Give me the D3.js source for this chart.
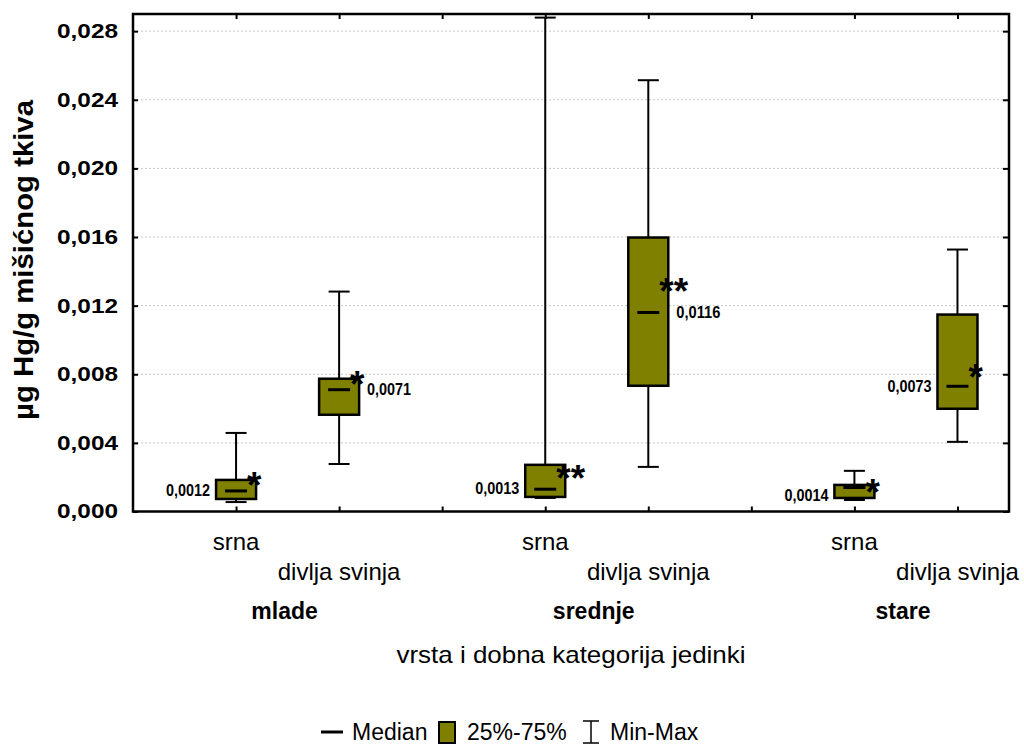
<!DOCTYPE html>
<html>
<head>
<meta charset="utf-8">
<script src="https://cdn.jsdelivr.net/npm/d3@7"></script>
<style>
  body { margin: 0; background: #fff; }
  svg text { font-family: Arial, "Liberation Sans", sans-serif; fill: #000; }
</style>
</head>
<body>
<div id="chart"><svg width="1024" height="744"></svg></div>
<script>
// data (slot order: mlade srna, mlade svinja, srednje srna, ...)
const groups = ["mlade", "srednje", "stare"];
const species = ["srna", "divlja svinja"];
const mins    = [0.00055, 0.00277, 0.00079, 0.00260, 0.00067, 0.00406];
const q1      = [0.00073, 0.00564, 0.00085, 0.00733, 0.00079, 0.00599];
const medians = [0.0012, 0.0071, 0.0013, 0.0116, 0.0014, 0.0073];
const q3      = [0.00184, 0.00774, 0.00272, 0.01597, 0.00155, 0.01148];
const maxs    = [0.00458, 0.01282, 0.02879, 0.02514, 0.00237, 0.01527];
const means   = [0.0020, 0.0079, 0.0024, 0.0133, 0.0016, 0.0083];
const stars   = ["*", "*", "**", "**", "*", "*"];
const yTicks  = [0, 0.004, 0.008, 0.012, 0.016, 0.020, 0.024, 0.028];

// label placement (layout only)
const labelSide = ["left", "right", "left", "right", "left", "left"];
const labelDy   = [5, 5, 5, 5, 14, 6];

const svg = d3.select("#chart svg");
const olive = "#808000";
const loc = d3.formatLocale({ decimal: ",", thousands: ".", grouping: [3], currency: ["", ""] });
const fmt3 = loc.format(".3f");
const fmt4 = loc.format(".4f");

const margin = { left: 133, right: 1009, top: 14, bottom: 511.5 };

const x = d3.scaleLinear().domain([-1, 7.5]).range([margin.left, margin.right]);
const y = d3.scaleLinear().domain([0, 0.029]).range([margin.bottom, margin.top]);

const data = mins.map((m, i) => ({
    slot: Math.floor(i / 2) * 3 + (i % 2),
    min: m, q1: q1[i], med: medians[i], q3: q3[i], max: maxs[i],
    mean: means[i], star: stars[i], side: labelSide[i], dy: labelDy[i],
    sp: species[i % 2]
}));

// grid
svg.append("g").selectAll("line")
    .data(yTicks.slice(1))
    .enter().append("line")
    .attr("x1", margin.left).attr("x2", margin.right)
    .attr("y1", d => y(d)).attr("y2", d => y(d))
    .attr("stroke", "#c8c8c8").attr("stroke-width", 1)
    .attr("stroke-dasharray", "2,2");

// axes (ticks pointing inward)
const slots = d3.range(0, 8);
const yAxis = d3.axisLeft(y).tickValues(yTicks).tickFormat(fmt3).tickSize(-5).tickPadding(15);
svg.append("g")
    .attr("transform", `translate(${margin.left},0)`)
    .call(yAxis)
    .call(g => g.select(".domain").remove())
    .call(g => g.selectAll("line").attr("stroke-width", 2))
    .selectAll("text")
    .style("font-size", "20px")
    .style("font-weight", "bold")
    .attr("font-family", null)
    .attr("textLength", 61)
    .attr("lengthAdjust", "spacingAndGlyphs");

svg.append("g")
    .attr("transform", `translate(${margin.right},0)`)
    .call(d3.axisRight(y).tickValues(yTicks).tickFormat("").tickSize(-6))
    .call(g => g.select(".domain").remove())
    .call(g => g.selectAll("line").attr("stroke-width", 2));

svg.append("g")
    .attr("transform", `translate(0,${margin.bottom})`)
    .call(d3.axisBottom(x).tickValues(slots).tickFormat("").tickSize(-5))
    .call(g => g.select(".domain").remove())
    .call(g => g.selectAll("line").attr("stroke-width", 2));

svg.append("g")
    .attr("transform", `translate(0,${margin.top})`)
    .call(d3.axisTop(x).tickValues(slots).tickFormat("").tickSize(-5))
    .call(g => g.select(".domain").remove())
    .call(g => g.selectAll("line").attr("stroke-width", 2));

// frame
svg.append("rect")
    .attr("x", margin.left).attr("y", margin.top)
    .attr("width", margin.right - margin.left)
    .attr("height", margin.bottom - margin.top)
    .attr("fill", "none").attr("stroke", "#000").attr("stroke-width", 2.5);

// boxes
const boxW = 40, capW = 21, medW = 22;
const box = svg.append("g").selectAll("g")
    .data(data).enter().append("g");

box.append("line")
    .attr("x1", d => x(d.slot)).attr("x2", d => x(d.slot))
    .attr("y1", d => y(d.min)).attr("y2", d => y(d.max))
    .attr("stroke", "#000").attr("stroke-width", 2);
box.append("line")
    .attr("x1", d => x(d.slot) - capW / 2).attr("x2", d => x(d.slot) + capW / 2)
    .attr("y1", d => y(d.max)).attr("y2", d => y(d.max))
    .attr("stroke", "#000").attr("stroke-width", 2);
box.append("line")
    .attr("x1", d => x(d.slot) - capW / 2).attr("x2", d => x(d.slot) + capW / 2)
    .attr("y1", d => y(d.min)).attr("y2", d => y(d.min))
    .attr("stroke", "#000").attr("stroke-width", 2);
box.append("rect")
    .attr("x", d => x(d.slot) - boxW / 2)
    .attr("y", d => y(d.q3))
    .attr("width", boxW)
    .attr("height", d => y(d.q1) - y(d.q3))
    .attr("fill", olive).attr("stroke", "#000").attr("stroke-width", 2.5);
box.append("line")
    .attr("x1", d => x(d.slot) - medW / 2).attr("x2", d => x(d.slot) + medW / 2)
    .attr("y1", d => y(d.med)).attr("y2", d => y(d.med))
    .attr("stroke", "#000").attr("stroke-width", 3);

// median labels
box.append("text")
    .attr("x", d => d.side === "left" ? x(d.slot) - boxW / 2 - 6 : x(d.slot) + boxW / 2 + 8)
    .attr("y", d => y(d.med) + d.dy)
    .attr("text-anchor", d => d.side === "left" ? "end" : "start")
    .style("font-size", "16px").style("font-weight", "bold")
    .attr("textLength", 44).attr("lengthAdjust", "spacingAndGlyphs")
    .text(d => fmt4(d.med));

// asterisks at the means
box.append("text")
    .attr("x", d => x(d.slot) + 11)
    .attr("y", d => y(d.mean) + 21)
    .style("font-size", "37px").style("font-weight", "bold")
    .text(d => d.star);

// category labels
svg.append("g").selectAll("text")
    .data(data).enter().append("text")
    .attr("x", d => x(d.slot))
    .attr("y", d => d.sp === "srna" ? 550 : 580)
    .attr("text-anchor", "middle")
    .style("font-size", "24px")
    .text(d => d.sp);

svg.append("g").selectAll("text")
    .data(groups).enter().append("text")
    .attr("x", (d, i) => (x(i * 3) + x(i * 3 + 1)) / 2 - 3)
    .attr("y", 619)
    .attr("text-anchor", "middle")
    .style("font-size", "23px").style("font-weight", "bold")
    .text(d => d);

// axis titles
svg.append("text")
    .attr("x", (margin.left + margin.right) / 2)
    .attr("y", 663)
    .attr("text-anchor", "middle")
    .style("font-size", "24px")
    .attr("textLength", 349).attr("lengthAdjust", "spacingAndGlyphs")
    .text("vrsta i dobna kategorija jedinki");

svg.append("text")
    .attr("transform", "translate(33,260) rotate(-90)")
    .attr("text-anchor", "middle")
    .style("font-size", "27px").style("font-weight", "bold")
    .attr("textLength", 320).attr("lengthAdjust", "spacingAndGlyphs")
    .text("µg Hg/g mišićnog tkiva");

// legend
const leg = svg.append("g").attr("transform", "translate(0,740)");
leg.append("line").attr("x1", 321).attr("x2", 343).attr("y1", -8).attr("y2", -8)
    .attr("stroke", "#000").attr("stroke-width", 3);
leg.append("text").attr("x", 352).style("font-size", "23px").text("Median");
leg.append("rect").attr("x", 439).attr("y", -18).attr("width", 16).attr("height", 21)
    .attr("fill", olive).attr("stroke", "#000").attr("stroke-width", 2);
leg.append("text").attr("x", 467).style("font-size", "23px").text("25%-75%");
leg.append("line").attr("x1", 591).attr("x2", 591).attr("y1", -19).attr("y2", 3)
    .attr("stroke", "#000").attr("stroke-width", 1.5);
leg.append("line").attr("x1", 583).attr("x2", 599).attr("y1", -19).attr("y2", -19)
    .attr("stroke", "#000").attr("stroke-width", 1.5);
leg.append("line").attr("x1", 583).attr("x2", 599).attr("y1", 3).attr("y2", 3)
    .attr("stroke", "#000").attr("stroke-width", 1.5);
leg.append("text").attr("x", 610).style("font-size", "23px").text("Min-Max");
</script>
</body>
</html>
